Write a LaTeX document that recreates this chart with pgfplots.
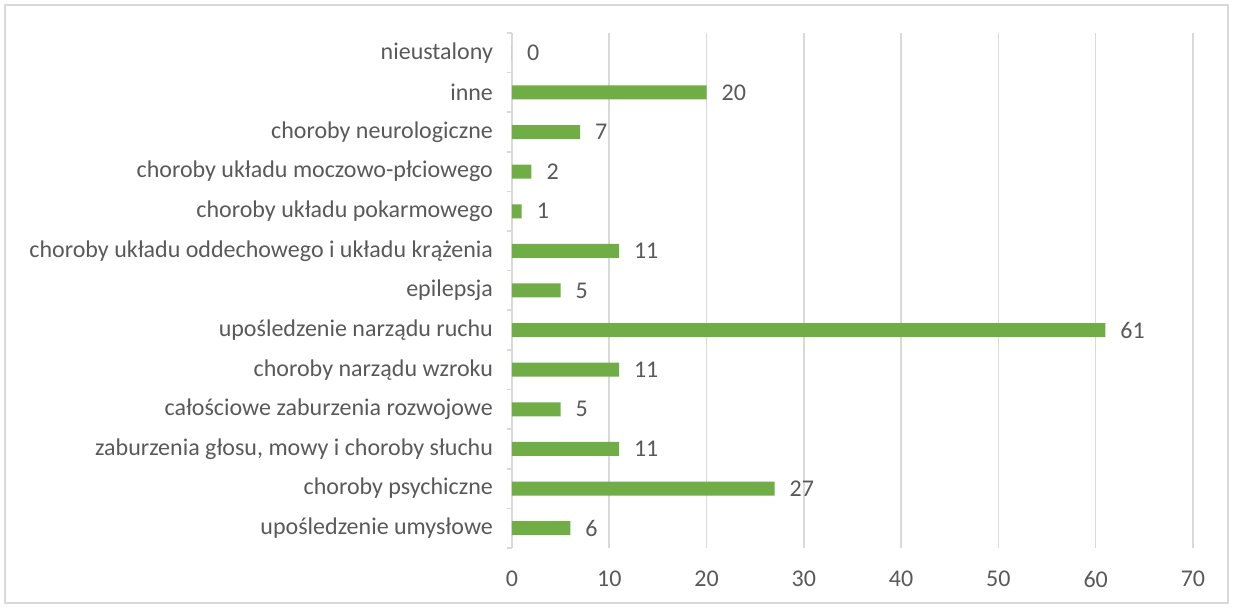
\documentclass[border=0pt]{standalone}
\usepackage{fontspec}
\setmainfont{Carlito}
\usepackage{pgfplots}
\pgfplotsset{compat=1.18}
\definecolor{barcol}{HTML}{70AD47}
\definecolor{gridcol}{HTML}{D9D9D9}
\definecolor{txt}{HTML}{595959}

\begin{document}
\begin{tikzpicture}
\useasboundingbox (-256pt,-30pt) rectangle (360.5pt,274pt);
\draw[gridcol, line width=0.8pt] (-253.5pt,-27.5pt) rectangle (358pt,271.5pt);
\begin{axis}[
  at={(0,0)}, anchor=south west,
  scale only axis,
  width=340.5pt, height=257.5pt,
  xbar, bar width=7pt,
  xmin=0, xmax=70,
  ymin=-0.5, ymax=12.5,
  xtick={0,10,...,70},
  ytick={0,...,12},
  yticklabels={upośledzenie umysłowe, choroby psychiczne, {zaburzenia głosu, mowy i choroby słuchu}, całościowe zaburzenia rozwojowe, choroby narządu wzroku, upośledzenie narządu ruchu, epilepsja, choroby układu oddechowego i układu krążenia, choroby układu pokarmowego, choroby układu moczowo-płciowego, choroby neurologiczne, inne, nieustalony},
  minor ytick={-0.5,0.5,...,12.5},
  axis lines=left,
  axis line style={-},
  x axis line style={draw=none},
  y axis line style={draw=gridcol, line width=0.8pt},
  major tick length=0pt,
  minor tick length=2.5pt,
  tick align=outside,
  minor tick style={draw=gridcol, line width=0.8pt},
  xmajorgrids,
  grid style={draw=gridcol, line width=0.8pt},
  /pgf/number format/assume math mode=true,
  ticklabel style={font=\fontsize{12}{14}\selectfont, text=txt},
  xticklabel style={yshift=-8pt},
  yticklabel style={xshift=-6pt},
  nodes near coords,
  nodes near coords style={font=\fontsize{12}{14}\selectfont, text=txt, anchor=west, xshift=4pt},
]
\addplot[fill=barcol, draw=none] coordinates {
  (6,0) (27,1) (11,2) (5,3) (11,4) (61,5) (5,6) (11,7) (1,8) (2,9) (7,10) (20,11) (0,12)
};
\end{axis}
\end{tikzpicture}
\end{document}
